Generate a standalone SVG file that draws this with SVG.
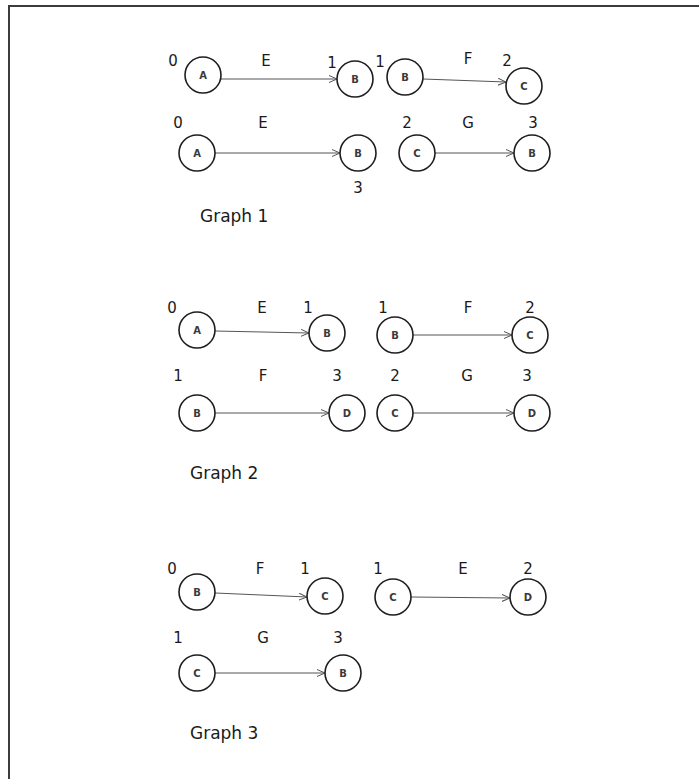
<svg xmlns="http://www.w3.org/2000/svg" width="699" height="779" viewBox="0 0 699 779">
  <style>
    .node circle { fill: #fff; stroke: #1e1e1e; stroke-width: 1.6; }
    .node text { font-family: "DejaVu Sans", "Liberation Sans", sans-serif; font-size: 10px; font-weight: bold; fill: #3a3a3a; text-anchor: middle; }
    .edge { stroke: #555; stroke-width: 1; fill: none; marker-end: url(#chev); }
    .lbl { font-family: "DejaVu Sans", "Liberation Sans", sans-serif; font-size: 15px; fill: #1a1a1a; text-anchor: middle; }
    .title { font-family: "DejaVu Sans", "Liberation Sans", sans-serif; font-size: 17px; fill: #1a1a1a; }
  </style>
  <defs>
    <marker id="chev" viewBox="0 0 8 8" refX="8" refY="4" markerWidth="8" markerHeight="8" markerUnits="userSpaceOnUse" orient="auto">
      <path d="M0,0.5 L8,4 L0,7.5" fill="none" stroke="#555" stroke-width="1"/>
    </marker>
  </defs>

  <rect width="699" height="779" fill="#fff"/>
  <!-- page frame: top and left edges only -->
  <g id="frame" stroke="#3c3c3c" stroke-width="2" fill="none">
    <line x1="9" y1="6" x2="699" y2="6"/>
    <line x1="9" y1="5" x2="9" y2="779"/>
  </g>

  <!-- connectors -->
  <g id="connectors">
    <!-- Graph 1 -->
    <line class="edge" x1="221" y1="79" x2="337" y2="79"/>
    <line class="edge" x1="423" y1="79" x2="506" y2="82"/>
    <line class="edge" x1="215" y1="153" x2="340" y2="153"/>
    <line class="edge" x1="435" y1="153" x2="514" y2="153"/>
    <!-- Graph 2 -->
    <line class="edge" x1="215" y1="331" x2="309" y2="333"/>
    <line class="edge" x1="413" y1="335" x2="512" y2="335"/>
    <line class="edge" x1="215" y1="413" x2="329" y2="413"/>
    <line class="edge" x1="413" y1="413" x2="514" y2="413"/>
    <!-- Graph 3 -->
    <line class="edge" x1="215" y1="593" x2="307" y2="597"/>
    <line class="edge" x1="411" y1="597" x2="510" y2="598"/>
    <line class="edge" x1="215" y1="673" x2="325" y2="673"/>
  </g>

  <!-- Graph 1 nodes -->
  <g id="g1-a1" class="node"><circle cx="203" cy="75" r="18"/><text x="203" y="79">A</text></g>
  <g id="g1-b1" class="node"><circle cx="355" cy="79" r="18"/><text x="355" y="83">B</text></g>
  <g id="g1-b2" class="node"><circle cx="405" cy="77" r="18"/><text x="405" y="81">B</text></g>
  <g id="g1-c1" class="node"><circle cx="524" cy="86" r="18"/><text x="524" y="90">C</text></g>
  <g id="g1-a2" class="node"><circle cx="197" cy="153" r="18"/><text x="197" y="157">A</text></g>
  <g id="g1-b3" class="node"><circle cx="358" cy="153" r="18"/><text x="358" y="157">B</text></g>
  <g id="g1-c2" class="node"><circle cx="417" cy="153" r="18"/><text x="417" y="157">C</text></g>
  <g id="g1-b4" class="node"><circle cx="532" cy="153" r="18"/><text x="532" y="157">B</text></g>

  <!-- Graph 2 nodes -->
  <g id="g2-a1" class="node"><circle cx="197" cy="330" r="18"/><text x="197" y="334">A</text></g>
  <g id="g2-b1" class="node"><circle cx="327" cy="333" r="18"/><text x="327" y="337">B</text></g>
  <g id="g2-b2" class="node"><circle cx="395" cy="335" r="18"/><text x="395" y="339">B</text></g>
  <g id="g2-c1" class="node"><circle cx="530" cy="335" r="18"/><text x="530" y="339">C</text></g>
  <g id="g2-b3" class="node"><circle cx="197" cy="413" r="18"/><text x="197" y="417">B</text></g>
  <g id="g2-d1" class="node"><circle cx="347" cy="413" r="18"/><text x="347" y="417">D</text></g>
  <g id="g2-c2" class="node"><circle cx="395" cy="413" r="18"/><text x="395" y="417">C</text></g>
  <g id="g2-d2" class="node"><circle cx="532" cy="413" r="18"/><text x="532" y="417">D</text></g>

  <!-- Graph 3 nodes -->
  <g id="g3-b1" class="node"><circle cx="197" cy="592" r="18"/><text x="197" y="596">B</text></g>
  <g id="g3-c1" class="node"><circle cx="325" cy="596" r="18"/><text x="325" y="600">C</text></g>
  <g id="g3-c2" class="node"><circle cx="393" cy="597" r="18"/><text x="393" y="601">C</text></g>
  <g id="g3-d1" class="node"><circle cx="528" cy="597" r="18"/><text x="528" y="601">D</text></g>
  <g id="g3-c3" class="node"><circle cx="197" cy="673" r="18"/><text x="197" y="677">C</text></g>
  <g id="g3-b2" class="node"><circle cx="343" cy="673" r="18"/><text x="343" y="677">B</text></g>

  <!-- step numbers and edge letters -->
  <g id="labels-1" class="lbl">
    <text x="173" y="66">0</text>
    <text x="266" y="66">E</text>
    <text x="332" y="68">1</text>
    <text x="380" y="67">1</text>
    <text x="468" y="64">F</text>
    <text x="507" y="66">2</text>
    <text x="178" y="128">0</text>
    <text x="263" y="128">E</text>
    <text x="407" y="128">2</text>
    <text x="468" y="128">G</text>
    <text x="533" y="128">3</text>
    <text x="358" y="193">3</text>
  </g>
  <g id="labels-2" class="lbl">
    <text x="172" y="313">0</text>
    <text x="262" y="313">E</text>
    <text x="308" y="313">1</text>
    <text x="383" y="313">1</text>
    <text x="468" y="313">F</text>
    <text x="530" y="313">2</text>
    <text x="178" y="381">1</text>
    <text x="263" y="381">F</text>
    <text x="337" y="381">3</text>
    <text x="395" y="381">2</text>
    <text x="467" y="381">G</text>
    <text x="527" y="381">3</text>
  </g>
  <g id="labels-3" class="lbl">
    <text x="172" y="574">0</text>
    <text x="260" y="574">F</text>
    <text x="305" y="574">1</text>
    <text x="378" y="574">1</text>
    <text x="463" y="574">E</text>
    <text x="528" y="574">2</text>
    <text x="178" y="643">1</text>
    <text x="263" y="643">G</text>
    <text x="338" y="643">3</text>
  </g>

  <!-- graph captions -->
  <text class="title" x="200" y="222">Graph 1</text>
  <text class="title" x="190" y="479">Graph 2</text>
  <text class="title" x="190" y="739">Graph 3</text>
</svg>
